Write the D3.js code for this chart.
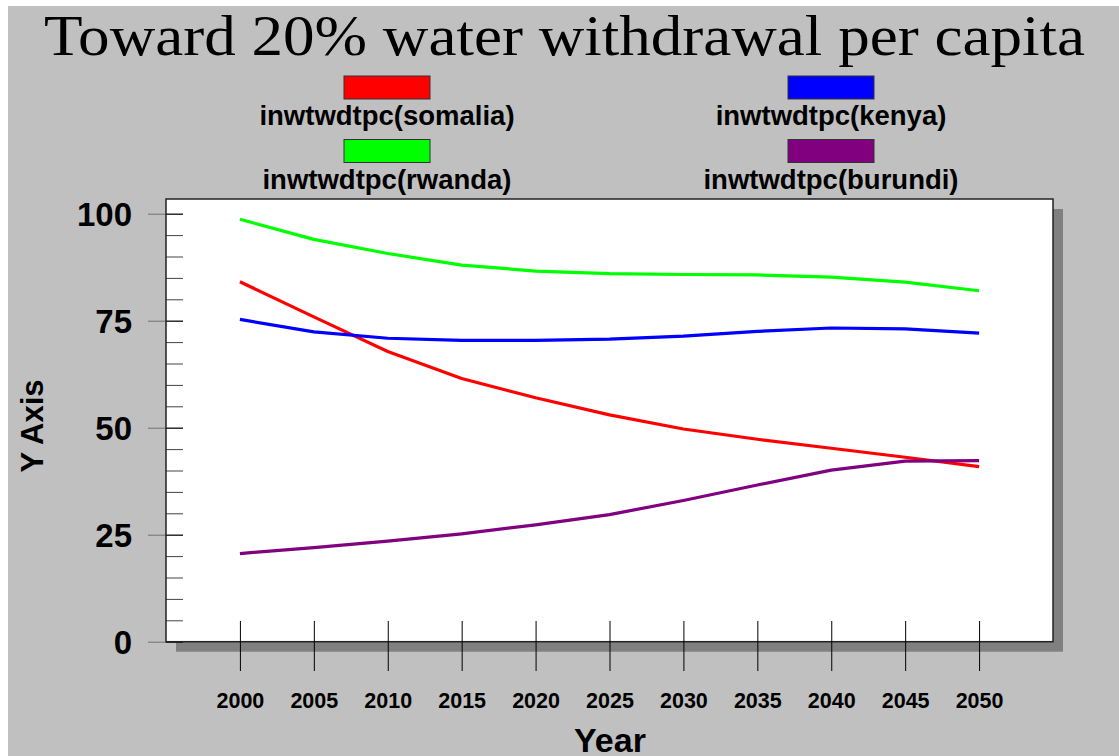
<!DOCTYPE html>
<html><head><meta charset="utf-8">
<script src="https://cdn.jsdelivr.net/npm/d3@7"></script>
<style>html,body{margin:0;padding:0;background:#fff;}svg{display:block;}</style>
</head><body>
<script>
const years = [2000,2005,2010,2015,2020,2025,2030,2035,2040,2045,2050];
const somalia = [84.1,75.9,67.8,61.5,57.0,53.0,49.7,47.3,45.2,43.1,40.9];
const kenya   = [75.3,72.4,70.9,70.4,70.4,70.7,71.4,72.5,73.3,73.1,72.1];
const rwanda  = [98.7,94.0,90.7,88.0,86.6,86.0,85.8,85.7,85.2,84.0,82.0];
const burundi = [20.6,22.0,23.5,25.2,27.3,29.7,33.0,36.6,40.1,42.2,42.3];
const seriesNames = ["inwtwdtpc(somalia)","inwtwdtpc(kenya)","inwtwdtpc(rwanda)","inwtwdtpc(burundi)"];
const seriesColors = ["#ff0000","#0000ff","#00ff00","#800080"];
const yMajorTicks = [0,25,50,75,100];
const yMinorTicks = [0,5,10,15,20,25,30,35,40,45,50,55,60,65,70,75,80,85,90,95,100];
const titleText = "Toward 20% water withdrawal per capita";

const W = 1119, H = 756;
const svg = d3.select("body").append("svg").attr("width", W).attr("height", H);
svg.append("rect").attr("x",0).attr("y",0).attr("width",W).attr("height",H).attr("fill","#ffffff");
svg.append("rect").attr("x",8).attr("y",6).attr("width",W-8).attr("height",H-6).attr("fill","#c0c0c0");

const L = 166, R = 1053, T = 199, B = 641.7;
const x = d3.scaleLinear().domain([1995,2055]).range([L,R]);
const y = d3.scaleLinear().domain([0,100]).range([B,213.7]);

// shadow and frame
svg.append("rect").attr("x",L+10).attr("y",T+10).attr("width",R-L).attr("height",B-T).attr("fill","#808080");
svg.append("rect").attr("x",L).attr("y",T).attr("width",R-L).attr("height",B-T).attr("fill","#ffffff");

// title
svg.append("text").attr("x",44).attr("y",55)
  .attr("font-family","'Liberation Serif','Times New Roman',serif").attr("font-size",56)
  .attr("textLength",1041).attr("lengthAdjust","spacingAndGlyphs")
  .attr("fill","#000").text(titleText);

// legend
const legPos = [[387,76],[831,76],[387,139.5],[831,139.5]];
const leg = svg.append("g");
seriesNames.forEach((n,i)=>{
  const [cx,ty] = legPos[i];
  leg.append("rect").attr("x",cx-43).attr("y",ty).attr("width",86).attr("height",23)
    .attr("fill",seriesColors[i]).attr("stroke","#333").attr("stroke-width",1);
  leg.append("text").attr("x",cx).attr("y",ty+49).attr("text-anchor","middle")
    .attr("font-family","'Liberation Sans',Arial,sans-serif").attr("font-weight","bold")
    .attr("font-size",27.5).attr("fill","#000").text(n);
});

// y minor ticks (inside)
const yMinor = svg.append("g").attr("transform",`translate(${L},0)`)
  .call(d3.axisRight(y).tickValues(yMinorTicks).tickSize(17).tickFormat(""));
yMinor.select(".domain").remove();
yMinor.selectAll("line").attr("stroke","#444");

// y major ticks (outside) with labels
const yMajor = svg.append("g").attr("transform",`translate(${L},0)`)
  .call(d3.axisLeft(y).tickValues(yMajorTicks).tickSize(18).tickPadding(16));
yMajor.select(".domain").remove();
yMajor.selectAll("line").attr("stroke","#707070");
yMajor.selectAll("text").attr("font-family","'Liberation Sans',Arial,sans-serif")
  .attr("font-weight","bold").attr("font-size",33).attr("fill","#000").attr("dy","0.36em");
const yMajorIn = svg.append("g").attr("transform",`translate(${L},0)`)
  .call(d3.axisRight(y).tickValues(yMajorTicks).tickSize(17).tickFormat(""));
yMajorIn.select(".domain").remove();
yMajorIn.selectAll("line").attr("stroke","#111");

// frame border
svg.append("rect").attr("x",L).attr("y",T).attr("width",R-L).attr("height",B-T)
  .attr("fill","none").attr("stroke","#222").attr("stroke-width",1.5);

// x axis
const xAx = svg.append("g").attr("transform",`translate(0,621)`)
  .call(d3.axisBottom(x).tickValues(years).tickSize(50).tickPadding(22).tickFormat(d3.format("d")));
xAx.select(".domain").remove();
xAx.selectAll("line").attr("stroke","#000");
xAx.selectAll("text").attr("font-family","'Liberation Sans',Arial,sans-serif")
  .attr("font-weight","bold").attr("font-size",21.5).attr("fill","#000");

// axis titles
svg.append("text").attr("x",610).attr("y",752).attr("text-anchor","middle")
  .attr("font-family","'Liberation Sans',Arial,sans-serif").attr("font-weight","bold")
  .attr("font-size",34).attr("fill","#000").text("Year");
svg.append("text").attr("transform","translate(43,426) rotate(-90)").attr("text-anchor","middle")
  .attr("font-family","'Liberation Sans',Arial,sans-serif").attr("font-weight","bold")
  .attr("font-size",31).attr("fill","#000").text("Y Axis");

// lines
const allSeries = [somalia,kenya,rwanda,burundi];
const line = d3.line().x((d,i)=>x(years[i])).y(d=>y(d));
const order = [2,0,1,3];
order.forEach(i=>{
  svg.append("path").datum(allSeries[i]).attr("d",line).attr("fill","none")
    .attr("stroke",seriesColors[i]).attr("stroke-width",3.2).attr("stroke-linejoin","round");
});
</script>
</body></html>
